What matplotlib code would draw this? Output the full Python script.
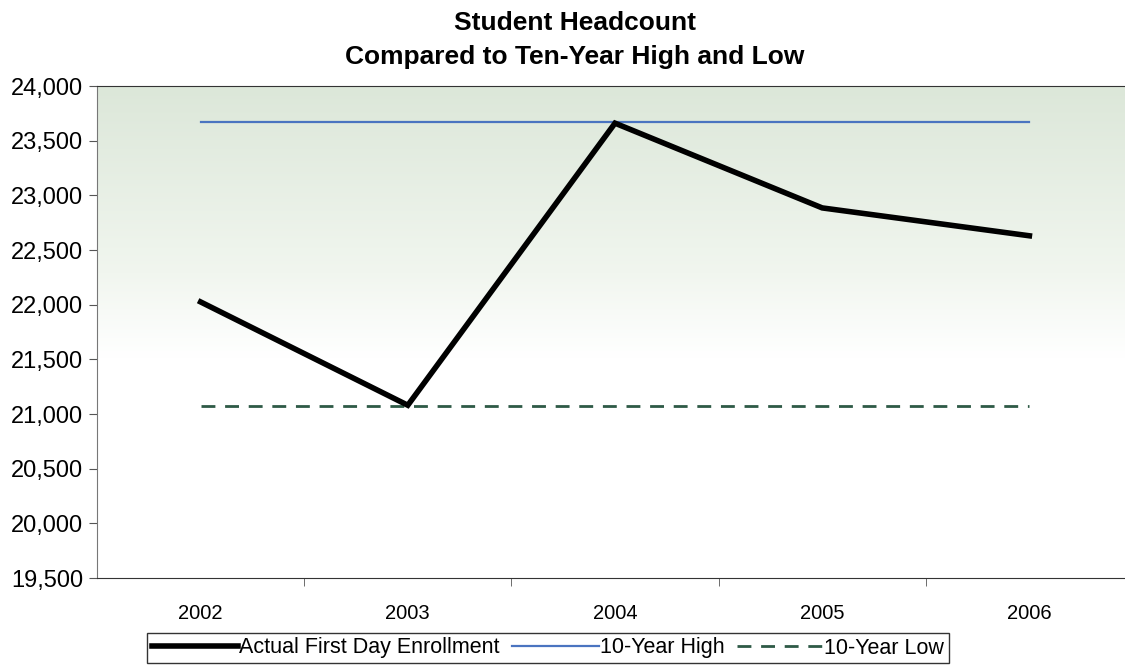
import matplotlib
matplotlib.use('Agg')
import matplotlib.pyplot as plt
import numpy as np
from matplotlib.colors import LinearSegmentedColormap
from matplotlib.ticker import FuncFormatter

years = ['2002', '2003', '2004', '2005', '2006']
enrollment = [22025, 21080, 23660, 22885, 22630]
ten_year_high = [23675, 23675, 23675, 23675, 23675]
ten_year_low = [21070, 21070, 21070, 21070, 21070]

plt.rcParams['font.family'] = ['Liberation Sans', 'DejaVu Sans']

fig = plt.figure(figsize=(11.25, 6.65), dpi=100)
ax = fig.add_axes([97 / 1125, 1 - 578 / 665, (1133 - 97) / 1125, (578 - 86) / 665])

x = np.arange(len(years))

# background gradient: pale green at top fading to white
cmap = LinearSegmentedColormap.from_list('bg', [(0.0, '#ffffff'), (0.45, '#ffffff'), (0.62, '#f1f6ef'), (1.0, '#dce7d9')])
grad = np.linspace(0, 1, 256).reshape(-1, 1)
ax.imshow(grad, aspect='auto', cmap=cmap, origin='lower', extent=(-0.5, 4.5, 19500, 24000), zorder=0)

ax.plot(x, enrollment, color='black', linewidth=4, solid_joinstyle='miter', label='Actual First Day Enrollment', zorder=3)
ax.plot(x, ten_year_high, color='#4a74c0', linewidth=1.6, label='10-Year High', zorder=2)
ax.plot(x, ten_year_low, color='#2e5a46', linewidth=2, linestyle=(0, (5, 3.5)), label='10-Year Low', zorder=2)

ax.set_xlim(-0.5, 4.5)
ax.set_ylim(19500, 24000)
ax.set_yticks(np.arange(19500, 24001, 500))
ax.yaxis.set_major_formatter(FuncFormatter(lambda v, p: '{:,.0f}'.format(v)))
ax.set_xticks(x)
ax.set_xticklabels(years)
ax.set_xticks(np.arange(0.5, 4.5, 1), minor=True)
ax.tick_params(axis='x', which='major', length=0, pad=19, labelsize=14.5)
ax.tick_params(axis='x', which='minor', length=6, color='#555555')
ax.tick_params(axis='y', length=6, labelsize=17, color='#555555', pad=4)

for s in ['left', 'bottom', 'top']:
    ax.spines[s].set_color('#333333')
ax.spines['left'].set_color('#777777')
ax.spines['right'].set_visible(False)

fig.text(0.511, 0.966, 'Student Headcount', ha='center', va='center', fontsize=19, fontweight='bold')
fig.text(0.511, 0.915, 'Compared to Ten-Year High and Low', ha='center', va='center', fontsize=19, fontweight='bold')

leg = fig.legend(loc='center', bbox_to_anchor=(548 / 1125, 1 - 648 / 665), ncol=3, frameon=True, fancybox=False,
                 fontsize=15.5, handlelength=4.0, handletextpad=0.05, columnspacing=0.6, borderpad=0.2,
                 borderaxespad=0)
leg.get_frame().set_edgecolor('black')
leg.get_frame().set_linewidth(1.0)

fig.savefig('out.png', dpi=100)
